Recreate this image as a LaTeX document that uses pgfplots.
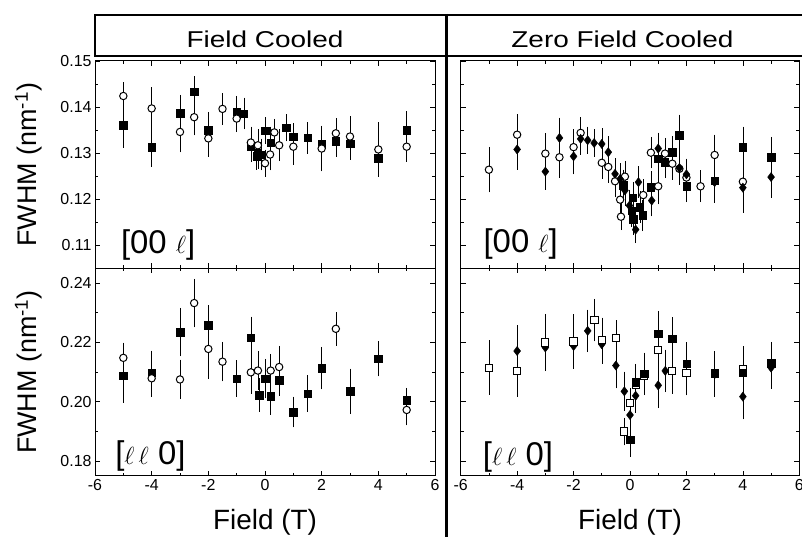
\documentclass[border=0pt]{standalone}
\usepackage{fontspec}
\setmainfont{Liberation Sans}
\newfontfamily\hdrfont{Liberation Sans}[FakeStretch=1.22]
\usepackage{pgfplots}
\pgfplotsset{compat=1.18}

\pgfplotstableread{
x y e
-5 0.1424 0.0025
-4 0.1397 0.0042
-3 0.1346 0.0040
-2.5 0.1378 0.0035
-2 0.1332 0.0035
-1.5 0.1396 0.0030
-1 0.1375 0.0025
-0.5 0.1323 0.0030
-0.25 0.1317 0.0030
0 0.1278 0.0025
0.18 0.1297 0.0030
0.33 0.1345 0.0025
0.5 0.1317 0.0030
1 0.1314 0.0035
2 0.1310 0.0045
2.5 0.1343 0.0028
3 0.1336 0.0040
4 0.1308 0.0055
5 0.1314 0.0028
}\tlcirc
\pgfplotstableread{
x y e
-5 0.1361 0.0045
-4 0.1313 0.0038
-3 0.1387 0.0035
-2.5 0.1433 0.0030
-2 0.1350 0.0035
-1 0.1390 0.0030
-0.75 0.1386 0.0030
-0.5 0.1315 0.0030
-0.3 0.1293 0.0025
-0.25 0.1300 0.0030
-0.15 0.1297 0.0030
0 0.1349 0.0025
0.2 0.1323 0.0030
0.75 0.1355 0.0025
1 0.1336 0.0025
1.5 0.1333 0.0030
2 0.1320 0.0035
2.5 0.1326 0.0030
3 0.1320 0.0030
4 0.1289 0.0035
5 0.1350 0.0037
}\tlsq
\pgfplotstableread{
x y e
-5 0.1264 0.0045
-4 0.1340 0.0040
-3 0.1299 0.0040
-2.5 0.1291 0.0040
-2 0.1313 0.0035
-1.75 0.1344 0.0030
-1 0.1279 0.0030
-0.77 0.1270 0.0030
-0.53 0.1239 0.0030
-0.35 0.1199 0.0030
-0.32 0.1162 0.0025
-0.18 0.1249 0.0030
0.47 0.1209 0.0030
0.74 0.1301 0.0030
1.0 0.1228 0.0035
1.24 0.1299 0.0030
1.5 0.1277 0.0030
1.75 0.1266 0.0030
2.0 0.1247 0.0030
2.5 0.1228 0.0030
3 0.1296 0.0040
4 0.1238 0.0040
}\trcirc
\pgfplotstableread{
x y e
-4 0.1308 0.0040
-3 0.1260 0.0035
-2.5 0.1333 0.0040
-2 0.1293 0.0035
-1.75 0.1331 0.0030
-1.5 0.1328 0.0025
-1.27 0.1322 0.0025
-1 0.1320 0.0030
-0.77 0.1302 0.0030
-0.53 0.1255 0.0030
-0.35 0.1244 0.0030
-0.18 0.1219 0.0030
-0.02 0.1186 0.0030
0.2 0.1134 0.0025
0.3 0.1237 0.0030
0.77 0.1197 0.0030
1 0.1310 0.0030
1.75 0.1268 0.0030
2 0.1254 0.0030
3 0.1237 0.0040
4 0.1225 0.0050
5 0.1248 0.0040
}\trdia
\pgfplotstableread{
x y e
-0.24 0.1230 0.0030
0.06 0.1175 0.0030
0.1 0.1203 0.0030
0.12 0.1157 0.0030
0.35 0.1183 0.0030
0.45 0.1165 0.0030
0.74 0.1226 0.0030
1 0.1288 0.0030
1.24 0.1280 0.0030
1.5 0.1302 0.0030
1.74 0.1339 0.0040
2 0.1228 0.0030
3 0.1240 0.0030
4 0.1313 0.0040
5 0.1291 0.0040
}\trsq
\pgfplotstableread{
x y e
-5 0.2088 0.0085
-4 0.2098 0.0068
-3 0.2235 0.0075
-2 0.2258 0.0060
-1 0.2078 0.0055
-0.5 0.2215 0.0065
-0.2 0.2022 0.0050
0 0.2078 0.0060
0.2 0.2018 0.0055
0.5 0.2072 0.0045
1 0.1965 0.0045
1.5 0.2027 0.0055
2 0.2113 0.0065
3 0.2035 0.0070
4 0.2145 0.0053
5 0.2005 0.0035
}\blsq
\pgfplotstableread{
x y e
-5 0.2148 0.0045
-4 0.2079 0.0055
-3 0.2075 0.0060
-2.5 0.2333 0.0075
-2 0.2178 0.0095
-1.5 0.2135 0.0060
-0.5 0.2099 0.0065
-0.25 0.2105 0.0060
0.2 0.2105 0.0050
0.5 0.2117 0.0065
2.5 0.2246 0.0050
5 0.1972 0.0045
}\blcirc
\pgfplotstableread{
x y e
-5 0.2115 0.0085
-4 0.2104 0.0080
-3 0.2200 0.0090
-2 0.2203 0.0085
-1.26 0.2275 0.0065
-1 0.2207 0.0070
-0.5 0.2214 0.0055
-0.2 0.1899 0.0040
0 0.1995 0.0045
0.2 0.2058 0.0050
0.5 0.2087 0.0045
1 0.2175 0.0070
1.5 0.2104 0.0070
2 0.2098 0.0070
3 0.2093 0.0070
4 0.2110 0.0070
}\brosq
\pgfplotstableread{
x y e
-4 0.2171 0.0080
-3 0.2183 0.0070
-2 0.2188 0.0065
-1.5 0.2239 0.0065
-1 0.2194 0.0060
-0.5 0.2122 0.0070
-0.2 0.2035 0.0060
0 0.1955 0.0050
0.2 0.2020 0.0050
1 0.2055 0.0070
1.25 0.2104 0.0065
3 0.2093 0.0065
4 0.2017 0.0070
5 0.2115 0.0065
}\brdia
\pgfplotstableread{
x y e
0 0.1871 0.0050
0.2 0.2066 0.0055
0.5 0.2094 0.0065
1 0.2230 0.0070
1.5 0.2213 0.0065
2 0.2129 0.0065
3 0.2098 0.0065
4 0.2098 0.0070
5 0.2130 0.0065
}\brfsq

\tikzset{lab/.style={font=\fontsize{33}{33}\selectfont, anchor=base west, inner sep=0pt}}
\pgfplotsset{
  panel/.style={scale only axis, width=340bp, height=207.3bp, anchor=south west,
    xmin=-6, xmax=6, xtick={-6,-4,...,6}, minor x tick num=1, minor y tick num=1,
    tick align=inside, major tick length=5bp, minor tick length=3bp,
    every tick/.style={black, line width=0.7bp},
    axis line style={line width=1bp},
    tick label style={font=\fontsize{16}{16}\selectfont},
    /pgf/number format/assume math mode=true,
    yticklabel style={/pgf/number format/.cd, fixed, fixed zerofill, precision=2},
    ylabel style={font=\fontsize{27}{27}\selectfont, at={(axis description cs:-0.195,0.5)}, anchor=center},
    xlabel style={font=\fontsize{28}{28}\selectfont, at={(axis description cs:0.5,-0.227)}, anchor=center},
  },
  dat/.style={color=black, only marks, error bars/.cd, y dir=both, y explicit,
    error bar style={line width=0.5bp, black},
    error mark options={black, mark size=2bp, line width=0.5bp}},
  fsq/.style={mark=square*, mark size=3.7bp, mark options={fill=black, draw=black}},
  osq/.style={mark=square*, mark size=3.6bp, mark options={fill=white, draw=black, line width=1bp}},
  ocirc/.style={mark=*, mark size=3.7bp, mark options={fill=white, draw=black, line width=1bp}},
  fdia/.style={mark=diamond*, mark size=4.6bp, mark options={fill=black, draw=black}},
}

\begin{document}
\begin{tikzpicture}[x=1bp,y=1bp]
% Top-left: field cooled [00l]
\begin{axis}[panel, at={(95bp,271.7bp)}, ymin=0.105, ymax=0.15,
  ytick={0.11,0.12,0.13,0.14,0.15}, xticklabels={},
  ylabel={FWHM (nm\textsuperscript{-1})}]
\addplot[fsq, dat] table[x=x, y=y, y error=e] {\tlsq};
\addplot[ocirc, dat] table[x=x, y=y, y error=e] {\tlcirc};
\node[lab] at (rel axis cs:0.076,0.072) {[00 $\ell$]};
\end{axis}
% Bottom-left: field cooled [ll0]
\begin{axis}[panel, at={(95bp,64.3bp)}, ymin=0.175, ymax=0.245,
  ytick={0.18,0.20,0.22,0.24},
  xlabel={Field (T)}, ylabel={FWHM (nm\textsuperscript{-1})}]
\addplot[fsq, dat] table[x=x, y=y, y error=e] {\blsq};
\addplot[ocirc, dat] table[x=x, y=y, y error=e] {\blcirc};
\node[lab] at (rel axis cs:0.059,0.052) {[$\ell\,\ell$ 0]};
\end{axis}
% Top-right: zero field cooled [00l]
\begin{axis}[panel, width=338.6bp, at={(460.7bp,271.7bp)}, ymin=0.105, ymax=0.15,
  ytick={0.11,0.12,0.13,0.14,0.15}, xticklabels={}, yticklabels={}]
\addplot[ocirc, dat] table[x=x, y=y, y error=e] {\trcirc};
\addplot[fdia, dat] table[x=x, y=y, y error=e] {\trdia};
\addplot[fsq, dat] table[x=x, y=y, y error=e] {\trsq};
\node[lab] at (rel axis cs:0.067,0.074) {[00 $\ell$]};
\end{axis}
% Bottom-right: zero field cooled [ll0]
\begin{axis}[panel, width=338.6bp, at={(460.7bp,64.3bp)}, ymin=0.175, ymax=0.245,
  ytick={0.18,0.20,0.22,0.24}, yticklabels={}, xlabel={Field (T)}]
\addplot[fdia, dat] table[x=x, y=y, y error=e] {\brdia};
\addplot[osq, dat] table[x=x, y=y, y error=e] {\brosq};
\addplot[fsq, dat] table[x=x, y=y, y error=e] {\brfsq};
\node[lab] at (rel axis cs:0.065,0.05) {[$\ell\,\ell$ 0]};
\end{axis}
% header boxes and divider
\draw[line width=1.4bp] (95bp,525bp) -- (810bp,525bp);
\draw[line width=1.4bp] (95bp,525.7bp) -- (95bp,484bp) -- (810bp,484bp);
\draw[line width=2.2bp] (446.5bp,526bp) -- (446.5bp,3bp);
\node[font=\hdrfont\fontsize{23}{23}\selectfont, anchor=base] at (265bp,492bp) {Field Cooled};
\node[font=\hdrfont\fontsize{23}{23}\selectfont, anchor=base] at (622.5bp,492bp) {Zero Field Cooled};
\pgfresetboundingbox
\useasboundingbox (0,0) rectangle (802bp,540bp);
\end{tikzpicture}
\end{document}
